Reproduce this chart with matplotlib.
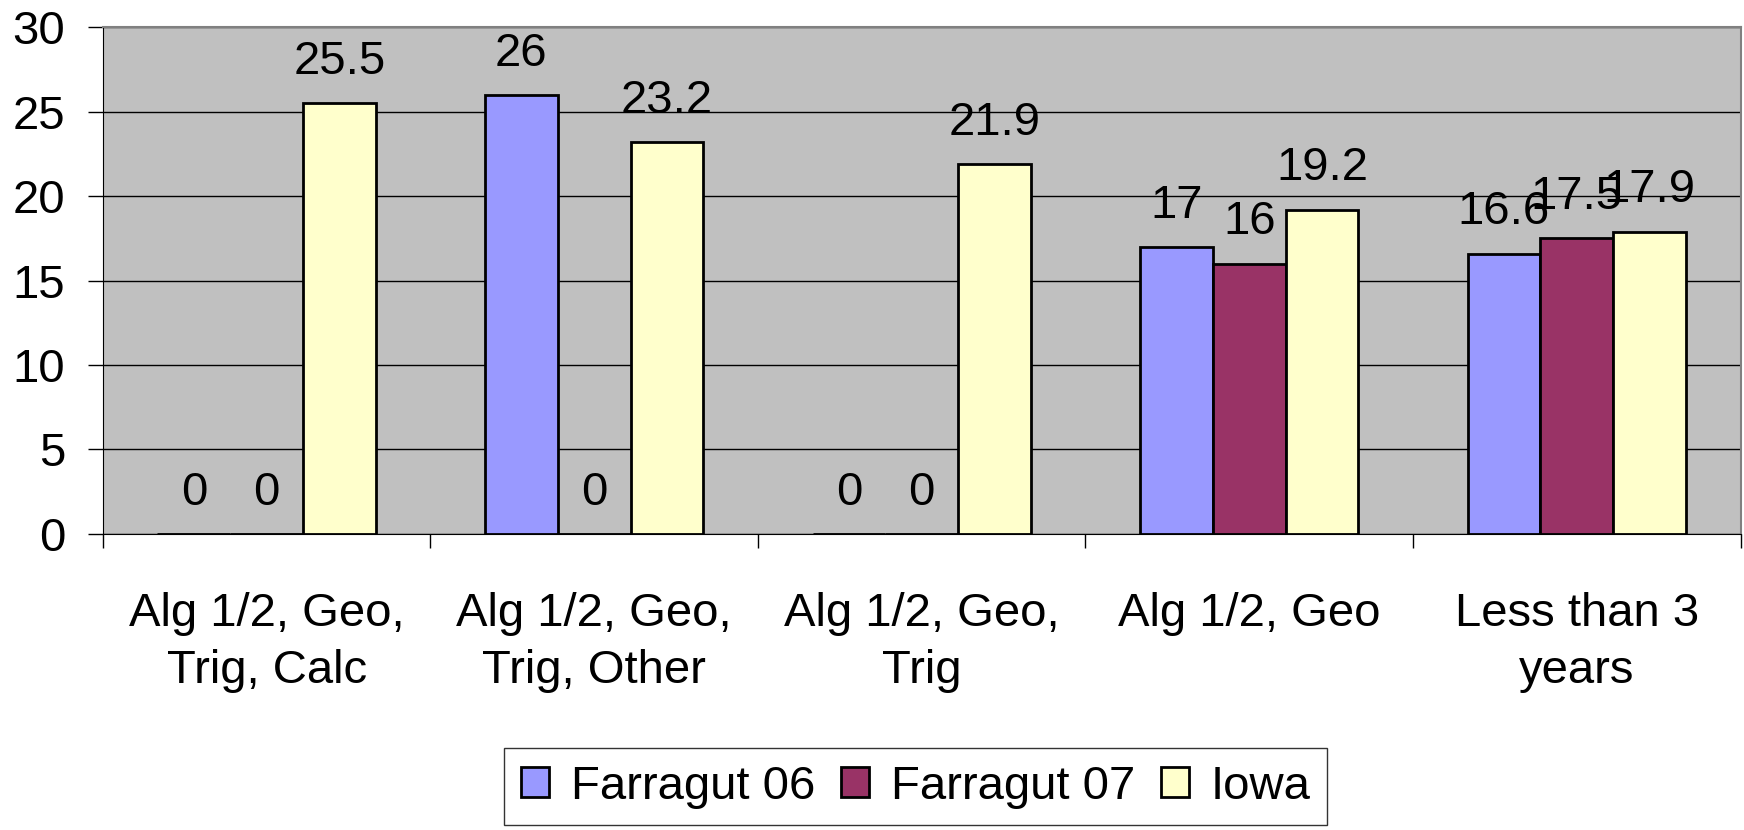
"""
Grouped bar chart: Farragut 06 / Farragut 07 / Iowa
"""

import matplotlib
matplotlib.use("Agg")
import matplotlib.pyplot as plt
import numpy as np

categories = ["Alg 1/2, Geo,\nTrig, Calc", "Alg 1/2, Geo,\nTrig, Other",
              "Alg 1/2, Geo,\nTrig", "Alg 1/2, Geo", "Less than 3\nyears"]
farragut06 = [0, 26, 0, 17, 16.6]
farragut07 = [0, 0, 0, 16, 17.5]
iowa = [25.5, 23.2, 21.9, 19.2, 17.9]

series = [("Farragut 06", farragut06, "#9999FF"),
          ("Farragut 07", farragut07, "#993366"),
          ("Iowa", iowa, "#FFFFCC")]

plt.rcParams["font.family"] = ["Liberation Sans", "DejaVu Sans"]
FS = 34

fig = plt.figure(figsize=(17.44, 8.3), dpi=100)
ax = fig.add_axes([0.059, 0.357, 0.939, 0.610])
ax.set_facecolor("#C0C0C0")

x = np.arange(len(categories))
w = 1 / 4.5
for i, (name, vals, col) in enumerate(series):
    pos = x + (i - 1) * w
    ax.bar(pos, vals, w, color=col, edgecolor="black", linewidth=2,
           label=name, zorder=3)
    for p, v in zip(pos, vals):
        ax.annotate("%g" % v, (p, v), xytext=(0, 21), textcoords="offset points",
                    ha="center", va="baseline", fontsize=FS, zorder=4)

ax.set_ylim(0, 30)
ax.set_xlim(-0.5, len(categories) - 0.5)
ax.set_yticks(range(0, 31, 5))
ax.yaxis.grid(True, color="black", linewidth=1)
ax.set_axisbelow(True)
ax.tick_params(axis="y", labelsize=FS, length=11, width=1, pad=16)

ax.set_xticks(x)
ax.set_xticklabels(categories, fontsize=FS, linespacing=1.38)
ax.tick_params(axis="x", length=0, pad=42)
ax.set_xticks(np.arange(len(categories) + 1) - 0.5, minor=True)
ax.tick_params(axis="x", which="minor", length=10, width=1, direction="out")

for s in ["top", "right"]:
    ax.spines[s].set_color("#808080")
    ax.spines[s].set_linewidth(1.5)
ax.spines["left"].set_color("black")
ax.spines["bottom"].set_color("black")

leg = fig.legend(loc="center", bbox_to_anchor=(0.525, 0.052), ncol=3,
                 fontsize=FS, frameon=True, fancybox=False, edgecolor="black",
                 handlelength=0.6, handleheight=0.6, handletextpad=0.45,
                 columnspacing=0.55, borderpad=0.35, borderaxespad=0)
leg.get_frame().set_linewidth(1)

plt.savefig("out.png", dpi=100)
